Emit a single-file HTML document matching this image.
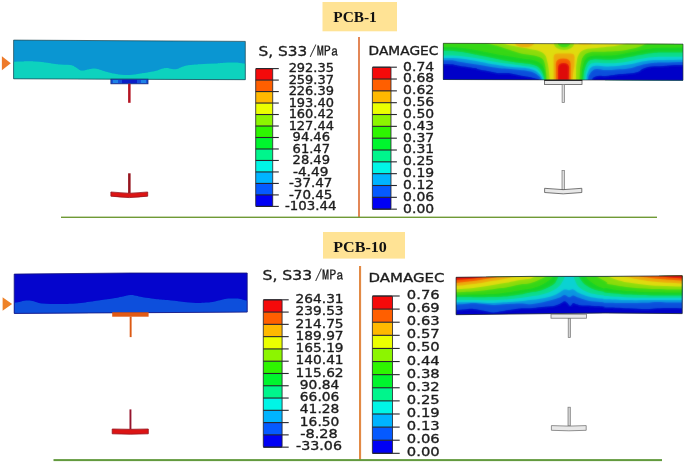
<!DOCTYPE html>
<html lang="en"><head><meta charset="utf-8"><title>PCB-1 / PCB-10 contour plots</title>
<style>
html,body{margin:0;padding:0;background:#fff}
svg{display:block}
text{font-family:"DejaVu Sans","Liberation Sans",sans-serif;fill:#1c1c1c;stroke:#1c1c1c;stroke-width:0.34px}
.t{font-family:"Liberation Serif","DejaVu Serif",serif;font-weight:bold;fill:#111;stroke:none}
.m{font-family:"IPAGothic","Liberation Mono",monospace;stroke-width:0.2px}
</style></head><body>
<svg width="685" height="463" viewBox="0 0 685 463">
<defs>
<filter id="bl" x="-5%" y="-20%" width="110%" height="140%"><feGaussianBlur stdDeviation="1.0"/></filter>
<filter id="b2" x="-5%" y="-20%" width="110%" height="140%"><feGaussianBlur stdDeviation="0.35"/></filter>
</defs>
<rect width="685" height="463" fill="#fff"/>

<rect x="322.5" y="2" width="74.5" height="29.3" fill="#ffe395"/>
<text class="t" x="333.3" y="22" font-size="15.2" textLength="43.5" lengthAdjust="spacingAndGlyphs">PCB-1</text>
<rect x="323" y="232" width="82" height="26.6" fill="#ffe395"/>
<text class="t" x="333.3" y="252.3" font-size="15.6" textLength="53.5" lengthAdjust="spacingAndGlyphs">PCB-10</text>
<rect x="358.1" y="37" width="1.8" height="180.5" fill="#e07a45"/>
<rect x="359" y="266" width="2.1" height="194" fill="#e28a45"/>
<rect x="61" y="216.6" width="596" height="1.4" fill="#6f9a35"/>
<rect x="53.5" y="459.1" width="608.5" height="2" fill="#629a3e"/>
<path d="M1.9,56.2 L10.8,63.2 L1.9,70.2Z" fill="#ee7a2a"/>
<path d="M2.6,297.2 L12.1,303.9 L2.6,310.7Z" fill="#ee8228"/>
<clipPath id="c1"><path d="M13.6,40.1 L245.3,41.4 L245.3,79.7 L13.6,78.8Z"/></clipPath>
<g clip-path="url(#c1)"><rect x="10" y="38" width="240" height="45" fill="#0a96d2"/>
<g filter="url(#b2)"><path d="M12.0,62.0 C13.6,61.9 16.7,61.7 20.0,61.6 C23.3,61.5 23.8,61.2 28.5,61.3 C33.2,61.4 37.9,61.7 43.6,62.3 C49.3,62.9 51.7,63.6 57.0,64.2 C62.3,64.8 66.4,64.4 70.2,65.1 C74.0,65.8 74.1,66.5 76.0,67.5 C77.9,68.5 78.2,69.3 79.7,69.9 C81.2,70.5 81.6,70.5 83.5,70.4 C85.4,70.3 86.7,69.7 89.0,69.3 C91.3,68.9 92.7,68.4 94.9,68.5 C97.1,68.6 97.7,69.1 100.0,69.8 C102.3,70.5 103.5,71.0 106.3,71.8 C109.1,72.6 111.0,73.0 114.0,73.6 C117.0,74.2 118.3,74.5 121.5,74.8 C124.7,75.1 126.5,75.2 130.0,75.0 C133.5,74.8 135.0,74.3 139.0,73.7 C143.0,73.1 146.2,72.7 150.0,72.0 C153.8,71.3 155.4,70.9 158.0,70.2 C160.6,69.5 161.1,69.0 163.0,68.6 C164.9,68.2 165.6,67.9 167.4,68.0 C169.2,68.1 170.1,68.8 172.0,69.0 C173.9,69.2 174.8,69.4 177.0,68.9 C179.2,68.4 180.4,67.3 183.0,66.5 C185.6,65.7 186.8,65.6 190.2,65.1 C193.6,64.6 195.0,64.5 200.0,64.2 C205.0,63.9 210.0,63.9 215.0,63.6 C220.0,63.3 221.2,63.0 225.0,62.8 C228.8,62.6 230.9,62.6 233.9,62.6 C236.9,62.6 237.4,62.7 240.0,62.9 C242.6,63.1 245.6,63.6 247.0,63.8 L247.0,84.0 L12.0,84.0Z" fill="#0ad2be"/></g>
</g>
<path d="M13.6,40.1 L245.3,41.4 L245.3,79.7 L13.6,78.8Z" fill="none" stroke="#1e4650" stroke-width="0.8" stroke-opacity="0.9"/>
<rect x="110.9" y="79.2" width="37.1" height="4.6" fill="#1450dc"/>
<rect x="113" y="80" width="5" height="3" fill="#1e82e6"/><rect x="141" y="80" width="5" height="3" fill="#1e82e6"/>
<rect x="122" y="79.8" width="15" height="3.4" fill="#0a1ec8"/>
<rect x="110.9" y="79.2" width="37.1" height="4.6" fill="none" stroke="#142878" stroke-width="0.8"/>
<rect x="128.1" y="83.8" width="2.5" height="19" fill="#b41423"/>
<rect x="128.1" y="173.3" width="2.5" height="20" fill="#96141e"/>
<path d="M110.9,192 Q129.3,194.6 147.7,192 L147.7,196.2 Q129.3,199 110.9,196.2Z" fill="#dc1414" stroke="#96141e" stroke-width="0.8"/>
<clipPath id="c3"><path d="M14.2,274.1 L130,273 L247.2,273 L247.2,312.1 L14.2,313.4Z"/></clipPath>
<g clip-path="url(#c3)"><rect x="10" y="270" width="240" height="46" fill="#0505cd"/>
<g filter="url(#b2)"><path d="M12.0,303.0 C13.2,302.9 15.5,302.8 18.0,302.3 C20.5,301.8 21.8,301.0 24.7,300.7 C27.6,300.4 28.9,300.4 32.3,301.0 C35.7,301.6 36.9,302.9 41.8,303.5 C46.7,304.1 50.2,303.9 57.0,303.9 C63.8,303.9 68.4,304.1 76.0,303.5 C83.6,302.9 87.3,302.1 94.9,301.0 C102.5,299.9 108.3,299.1 113.9,298.2 C119.5,297.3 119.7,297.0 123.0,296.4 C126.3,295.8 127.8,295.1 130.4,295.0 C133.0,294.9 133.5,295.3 136.0,295.8 C138.5,296.3 139.0,296.7 142.8,297.3 C146.6,297.9 150.1,298.3 155.0,298.9 C159.9,299.5 162.0,299.5 167.4,300.1 C172.8,300.7 176.3,301.2 182.0,301.8 C187.7,302.4 191.1,302.8 195.9,303.0 C200.7,303.2 202.2,302.9 206.0,302.6 C209.8,302.3 211.7,302.0 214.9,301.4 C218.1,300.8 219.3,300.4 222.0,299.8 C224.7,299.2 226.0,298.9 228.2,298.6 C230.4,298.3 231.1,298.4 233.0,298.4 C234.9,298.4 235.7,298.3 237.7,298.6 C239.7,298.9 240.7,299.3 243.0,299.8 C245.3,300.3 247.8,301.0 249.0,301.3 L249.0,316.0 L12.0,316.0Z" fill="#0a50dc"/></g>
</g>
<path d="M14.2,274.1 L130,273 L247.2,273 L247.2,312.1 L14.2,313.4Z" fill="none" stroke="#14147a" stroke-width="0.8"/>
<rect x="112.2" y="312.3" width="36.4" height="4.4" fill="#e15a14"/>
<rect x="129.7" y="316.5" width="1.9" height="20.6" fill="#dc5a14"/>
<rect x="129.5" y="409.4" width="1.9" height="20" fill="#96142d"/>
<path d="M112.2,429 Q130.2,429.6 148.3,429 L148.3,433.8 Q130.2,434.6 112.2,433.8Z" fill="#dc1414" stroke="#96141e" stroke-width="0.8"/>
<clipPath id="c2"><path d="M443.3,43.3 L683,44.1 L683,80.3 L443.3,79.5Z"/></clipPath>
<g clip-path="url(#c2)"><g id="k2"><rect x="440" y="40" width="246" height="44" fill="#e0dc10"/>
<path d="M500.0,42.0 C501.4,42.5 504.2,43.6 507.0,44.4 C509.8,45.2 511.0,45.4 514.0,46.0 C517.0,46.6 518.6,46.9 522.0,47.6 C525.4,48.3 527.5,48.6 531.0,49.3 C534.5,50.0 536.7,50.1 539.5,51.2 C542.3,52.3 543.4,52.8 545.0,55.0 C546.6,57.2 546.6,59.0 547.4,62.0 C548.2,65.0 548.3,66.0 548.8,70.0 C549.3,74.0 549.6,79.6 549.8,82.0 L441.0,82.0 L441.0,42.0Z" fill="#8cdc0a"/>
<path d="M485.0,42.0 C486.4,42.5 489.3,43.7 492.0,44.6 C494.7,45.5 494.8,45.2 498.4,46.3 C502.0,47.4 505.7,48.6 510.0,50.0 C514.3,51.4 516.6,52.3 520.0,53.2 C523.4,54.1 524.2,54.0 527.0,54.5 C529.8,55.0 531.3,54.9 534.0,55.6 C536.7,56.3 538.7,56.5 540.7,57.8 C542.7,59.1 543.2,59.3 544.2,61.9 C545.2,64.5 545.4,66.7 545.9,70.7 C546.4,74.7 546.6,79.7 546.8,82.0 L441.0,82.0 L441.0,42.0Z" fill="#37d714"/>
<path d="M441.0,47.0 C444.3,47.1 450.7,46.9 457.5,47.5 C464.3,48.1 468.0,48.8 475.0,50.0 C482.0,51.2 485.6,52.2 492.6,53.5 C499.6,54.8 504.5,55.6 510.0,56.6 C515.5,57.6 515.3,57.6 520.0,58.3 C524.7,59.0 529.3,59.3 533.4,60.3 C537.5,61.3 538.3,61.8 540.5,63.5 C542.7,65.2 543.2,66.7 544.2,69.0 C545.2,71.3 545.2,72.4 545.6,75.0 C546.0,77.6 545.9,80.6 546.0,82.0 L441.0,82.0Z" fill="#14d228"/>
<path d="M441.0,50.8 C444.3,50.9 450.7,50.7 457.5,51.4 C464.3,52.1 468.0,53.1 475.0,54.4 C482.0,55.7 485.6,56.5 492.6,57.9 C499.6,59.3 504.2,60.4 510.0,61.4 C515.8,62.4 516.9,62.4 521.7,63.1 C526.5,63.8 530.1,63.8 533.8,64.9 C537.5,66.0 538.1,66.6 540.0,68.7 C541.9,70.8 542.6,72.9 543.5,75.6 C544.4,78.3 544.5,80.7 544.7,82.0 L441.0,82.0Z" fill="#0adc8c"/>
<path d="M441.0,55.5 C444.3,55.6 450.7,55.3 457.5,55.8 C464.3,56.3 468.0,57.0 475.0,58.1 C482.0,59.2 485.6,60.2 492.6,61.4 C499.6,62.6 504.2,63.2 510.0,64.1 C515.8,65.0 516.9,65.0 521.7,65.7 C526.5,66.4 530.3,66.5 533.8,67.6 C537.3,68.7 537.5,69.5 539.3,71.4 C541.1,73.3 541.9,74.8 542.8,76.9 C543.7,79.0 543.8,81.0 544.0,82.0 L441.0,82.0Z" fill="#0ad2d2"/>
<path d="M441.0,58.1 C444.3,58.1 450.7,57.8 457.5,58.3 C464.3,58.8 468.0,59.6 475.0,60.8 C482.0,62.0 486.8,63.3 492.6,64.3 C498.4,65.3 500.7,65.5 504.2,66.0 C507.7,66.5 506.8,66.5 510.0,66.8 C513.2,67.1 516.6,67.3 520.0,67.6 C523.4,67.9 524.1,67.7 526.9,68.2 C529.7,68.7 531.4,68.9 533.8,70.0 C536.2,71.1 537.1,72.0 538.7,73.5 C540.3,75.0 540.9,75.9 541.8,77.6 C542.7,79.3 542.9,81.1 543.2,82.0 L441.0,82.0Z" fill="#0a96e1"/>
<path d="M441.0,60.4 C443.1,60.4 448.4,60.1 451.7,60.3 C455.0,60.5 452.8,60.6 457.5,61.4 C462.2,62.2 468.0,63.1 475.0,64.3 C482.0,65.5 486.8,66.3 492.6,67.2 C498.4,68.1 500.7,68.2 504.2,68.6 C507.7,69.0 506.8,68.8 510.0,69.1 C513.2,69.4 516.6,69.7 520.0,70.0 C523.4,70.3 524.1,70.2 526.9,70.8 C529.7,71.4 531.6,71.8 533.8,72.8 C536.0,73.8 536.6,74.5 538.0,75.6 C539.4,76.7 539.9,77.0 540.7,78.3 C541.5,79.6 541.7,81.3 542.0,82.0 L441.0,82.0Z" fill="#0a50dc"/>
<path d="M441.0,63.9 C443.1,64.0 448.4,64.0 451.7,64.3 C455.0,64.6 452.8,64.6 457.5,65.4 C462.2,66.2 470.8,67.3 475.0,68.1 C479.2,68.9 475.0,68.5 478.5,69.3 C482.0,70.1 488.6,71.2 492.6,71.9 C496.6,72.6 495.6,72.8 498.4,73.0 C501.2,73.2 503.8,72.8 506.6,72.9 C509.4,73.0 509.4,73.1 512.4,73.7 C515.4,74.3 518.6,75.2 521.7,75.8 C524.8,76.4 525.5,76.3 528.0,76.8 C530.5,77.3 531.9,77.5 534.0,78.1 C536.1,78.7 537.4,78.8 538.7,79.6 C540.0,80.4 540.1,81.5 540.5,82.0 L441.0,82.0Z" fill="#0000c8"/>
<path d="M575.9,82.0 C575.9,79.6 576.0,73.9 576.1,70.0 C576.2,66.1 576.1,65.8 576.6,62.7 C577.1,59.6 577.1,57.1 578.8,54.4 C580.5,51.7 581.4,50.7 585.0,49.4 C588.6,48.1 591.7,48.5 596.8,47.9 C601.9,47.3 605.6,47.2 610.4,46.6 C615.2,46.0 617.3,45.7 621.0,44.8 C624.7,43.9 627.4,42.6 629.0,42.0 L686.0,42.0 L686.0,82.0Z" fill="#8cdc0a"/>
<path d="M579.5,82.0 C579.6,80.0 579.7,75.3 579.9,72.0 C580.1,68.7 580.0,68.5 580.6,65.4 C581.2,62.3 581.3,59.3 583.1,56.7 C584.9,54.1 585.9,53.4 589.5,52.4 C593.1,51.4 596.2,52.0 601.3,51.8 C606.4,51.6 609.5,51.8 614.9,51.3 C620.3,50.8 623.4,50.4 628.4,49.4 C633.4,48.4 636.1,48.0 640.0,46.5 C643.9,45.0 646.4,42.9 648.0,42.0 L686.0,42.0 L686.0,82.0Z" fill="#37d714"/>
<path d="M581.3,82.0 C581.4,80.2 581.6,76.0 581.9,73.0 C582.2,70.0 582.1,70.0 582.9,67.2 C583.7,64.4 584.0,61.4 585.9,59.1 C587.8,56.8 588.2,56.6 592.2,55.9 C596.2,55.2 600.9,55.8 605.8,55.6 C610.7,55.4 612.2,55.6 616.7,55.0 C621.2,54.4 623.7,53.7 628.4,52.8 C633.1,51.9 635.3,51.3 640.0,50.4 C644.7,49.5 647.0,49.0 651.7,48.5 C656.4,48.0 656.5,48.0 663.4,47.8 C670.3,47.6 681.5,47.5 686.0,47.4 L686.0,82.0Z" fill="#14d228"/>
<path d="M583.1,82.0 C583.2,80.4 583.4,76.6 583.7,74.0 C584.0,71.4 583.9,71.4 584.7,69.0 C585.5,66.6 586.0,64.1 587.7,62.2 C589.4,60.3 589.5,60.0 593.1,59.5 C596.7,59.0 601.1,59.7 605.8,59.7 C610.5,59.7 612.2,59.8 616.7,59.3 C621.2,58.8 623.7,58.2 628.4,57.3 C633.1,56.4 635.3,55.7 640.0,54.9 C644.7,54.1 647.0,53.7 651.7,53.2 C656.4,52.7 656.5,52.7 663.4,52.6 C670.3,52.5 681.5,52.6 686.0,52.6 L686.0,82.0Z" fill="#0adc8c"/>
<path d="M585.0,82.0 C585.1,80.6 585.2,77.2 585.5,75.0 C585.8,72.8 585.8,72.8 586.5,70.9 C587.2,69.0 587.5,67.0 589.0,65.4 C590.5,63.8 590.6,63.3 594.0,62.9 C597.4,62.5 601.3,63.3 605.8,63.3 C610.3,63.3 612.2,63.3 616.7,62.9 C621.2,62.5 623.7,62.2 628.4,61.4 C633.1,60.6 635.3,59.8 640.0,59.0 C644.7,58.2 647.0,57.8 651.7,57.3 C656.4,56.8 656.5,56.8 663.4,56.7 C670.3,56.6 681.5,56.7 686.0,56.7 L686.0,82.0Z" fill="#0ad2d2"/>
<path d="M586.3,82.0 C586.4,80.8 586.6,77.9 586.9,76.0 C587.2,74.1 587.2,74.3 587.9,72.7 C588.6,71.1 589.0,69.5 590.4,68.1 C591.8,66.7 591.8,66.2 594.9,65.9 C598.0,65.6 601.4,66.4 605.8,66.4 C610.2,66.4 612.2,66.4 616.7,66.0 C621.2,65.6 623.7,65.4 628.4,64.6 C633.1,63.8 635.3,62.8 640.0,61.9 C644.7,61.0 647.0,60.6 651.7,60.2 C656.4,59.8 656.5,60.1 663.4,60.0 C670.3,59.9 681.5,59.7 686.0,59.6 L686.0,82.0Z" fill="#0a96e1"/>
<path d="M587.7,82.0 C587.8,81.0 588.0,78.5 588.4,77.0 C588.8,75.5 588.7,75.7 589.5,74.5 C590.3,73.3 590.7,72.0 592.2,70.9 C593.7,69.8 594.1,69.2 596.8,69.0 C599.5,68.8 601.8,70.0 605.8,70.1 C609.8,70.2 612.2,69.8 616.7,69.5 C621.2,69.2 623.7,69.4 628.4,68.6 C633.1,67.8 635.3,66.5 640.0,65.4 C644.7,64.3 647.0,63.7 651.7,63.1 C656.4,62.5 656.5,62.7 663.4,62.5 C670.3,62.3 681.5,62.0 686.0,61.9 L686.0,82.0Z" fill="#0a50dc"/>
<path d="M591.3,82.0 C591.5,81.4 591.9,80.0 592.4,79.0 C592.9,78.0 592.6,77.8 594.0,77.2 C595.4,76.6 597.1,76.0 599.5,75.8 C601.9,75.6 602.4,76.3 605.8,76.0 C609.2,75.7 612.2,75.0 616.7,74.5 C621.2,74.0 624.2,74.1 628.4,73.6 C632.6,73.1 634.7,72.9 637.7,71.9 C640.7,70.9 640.7,69.5 643.5,68.4 C646.3,67.3 647.7,67.1 651.7,66.6 C655.7,66.1 658.7,66.3 663.4,66.0 C668.1,65.7 670.5,65.3 675.0,65.1 C679.5,64.9 683.8,64.9 686.0,64.9 L686.0,82.0Z" fill="#0000c8"/>
<ellipse cx="564" cy="43" rx="10.2" ry="7" fill="#8cdc0a"/>
<ellipse cx="564" cy="43" rx="6.4" ry="4.2" fill="#37d714"/>
<ellipse cx="524.6" cy="43" rx="9.6" ry="4.2" fill="#ecaa0a"/>
<ellipse cx="585" cy="43" rx="7" ry="2.2" fill="#f0c408"/>
<path d="M553.6,82 L553.6,57 Q553.8,53.6 558,53.6 L570.5,53.6 Q574.6,53.6 574.6,57 L574.4,66 Q573,72 572.4,82Z" fill="#ecaa0a"/>
<path d="M555.8,82 L555.8,64 Q556.2,58.6 563.2,58.6 Q570.4,58.6 570.7,64 L570.6,82Z" fill="#f55a05"/>
<path d="M558,82 L558,68 Q558.2,62.9 563.5,62.9 Q568.9,62.9 569.1,68 L568.8,82Z" fill="#de0808"/>
</g><use href="#k2" filter="url(#bl)" opacity="0.55"/></g>
<path d="M443.3,43.3 L683,44.1 L683,80.3 L443.3,79.5Z" fill="none" stroke="#28323c" stroke-width="0.8" stroke-opacity="0.85"/>
<rect x="544.6" y="80.4" width="37.4" height="4" fill="#e8e8e8" stroke="#555" stroke-width="0.8"/><rect x="544.3" y="79.8" width="38" height="1.1" fill="#222"/>
<rect x="562.1" y="84.4" width="2.4" height="18.2" fill="#dcdcdc" stroke="#777" stroke-width="0.7"/>
<rect x="562" y="170.5" width="2.4" height="19.4" fill="#dcdcdc" stroke="#777" stroke-width="0.7"/>
<path d="M544.6,188.3 Q563.2,191 581.8,188.3 L581.8,192.5 Q563.2,195.2 544.6,192.5Z" fill="#e8e8e8" stroke="#555" stroke-width="0.8"/>
<clipPath id="c4"><path d="M456.1,277.3 L530,276.4 L605,276.4 L682.2,275.8 L682.2,313.6 L605,313 L456.1,314.7Z"/></clipPath>
<g clip-path="url(#c4)"><g id="k4"><rect x="452" y="272" width="234" height="46" fill="#0000c8"/>
<path d="M453.5,310.3 C455.3,310.2 460.7,309.8 464.0,309.6 C467.3,309.3 470.0,308.7 473.4,308.9 C476.7,309.1 480.6,310.2 483.9,310.7 C487.2,311.3 490.3,312.3 493.2,312.4 C496.1,312.5 498.9,311.6 501.4,311.2 C503.9,310.8 505.3,310.5 508.4,310.0 C511.5,309.6 516.5,308.7 520.1,308.4 C523.7,308.1 526.4,308.5 530.0,308.3 C533.6,308.1 537.8,307.5 541.7,307.1 C545.6,306.7 550.2,306.5 553.4,306.0 C556.5,305.4 558.5,304.4 560.4,303.6 C562.2,302.8 563.3,301.4 564.5,301.3 C565.6,301.2 566.4,302.3 567.4,303.0 C568.3,303.8 569.3,306.0 570.3,306.0 C571.3,306.0 572.1,303.3 573.2,303.0 C574.3,302.7 575.2,303.8 576.7,304.2 C578.3,304.6 579.6,305.3 582.6,305.6 C585.5,305.9 590.5,305.8 594.2,306.0 C597.9,306.2 603.0,306.5 604.7,306.8 C606.5,307.0 601.1,307.2 605.0,307.5 C608.9,307.7 621.5,308.0 628.4,308.3 C635.2,308.6 641.0,309.1 645.9,309.1 C650.7,309.1 653.7,308.5 657.6,308.3 C661.4,308.1 664.6,307.9 669.2,307.9 C673.9,307.9 682.9,308.2 685.6,308.3 L685.0,274.0 L454.0,274.0Z" fill="#0a50dc"/>
<path d="M453.5,304.8 C455.3,304.7 460.7,304.3 464.0,304.0 C467.3,303.7 470.0,303.0 473.4,303.0 C476.7,303.0 480.6,303.7 483.9,304.0 C487.2,304.3 490.3,304.8 493.2,304.9 C496.1,305.0 498.9,304.6 501.4,304.4 C503.9,304.3 505.3,304.1 508.4,304.0 C511.5,303.8 516.5,303.6 520.1,303.6 C523.7,303.7 526.4,304.4 530.0,304.2 C533.6,304.0 537.8,303.2 541.7,302.5 C545.6,301.7 550.2,300.4 553.4,299.5 C556.5,298.7 558.5,297.9 560.4,297.2 C562.2,296.5 563.0,295.1 564.5,295.1 C565.9,295.1 567.7,297.1 569.1,297.2 C570.6,297.3 571.6,295.3 573.2,295.4 C574.9,295.5 576.5,296.9 579.1,297.8 C581.6,298.7 584.9,300.0 588.4,300.7 C591.9,301.4 597.3,301.6 600.1,301.9 C602.8,302.2 603.9,302.3 604.7,302.5 C605.6,302.6 601.1,302.7 605.0,302.8 C608.9,302.9 621.5,303.0 628.4,303.0 C635.2,303.0 641.0,303.0 645.9,302.8 C650.7,302.6 653.7,301.9 657.6,301.9 C661.4,301.8 664.6,302.4 669.2,302.5 C673.9,302.5 682.9,302.5 685.6,302.5 L685.0,274.0 L454.0,274.0Z" fill="#0a96e1"/>
<path d="M453.5,302.5 C455.3,302.4 460.7,302.2 464.0,302.2 C467.3,302.2 470.0,302.2 473.4,302.3 C476.7,302.4 480.6,302.7 483.9,302.8 C487.2,302.9 490.3,303.1 493.2,303.0 C496.1,303.0 498.9,302.7 501.4,302.6 C503.9,302.4 505.3,302.3 508.4,302.1 C511.5,301.9 516.5,301.6 520.1,301.3 C523.7,301.0 526.4,300.6 530.0,300.1 C533.6,299.7 537.8,299.4 541.7,298.6 C545.6,297.8 550.2,296.6 553.4,295.4 C556.5,294.3 558.5,292.9 560.4,291.9 C562.2,291.0 563.0,289.9 564.5,289.6 C565.9,289.3 567.7,290.2 569.1,290.2 C570.6,290.2 571.6,288.9 573.2,289.4 C574.9,289.9 576.5,291.9 579.1,293.1 C581.6,294.3 584.9,295.7 588.4,296.6 C591.9,297.5 597.3,298.2 600.1,298.6 C602.8,299.0 603.9,298.9 604.7,299.1 C605.6,299.2 601.1,299.1 605.0,299.3 C608.9,299.5 620.6,300.0 628.4,300.1 C636.1,300.3 642.2,300.1 651.7,300.1 C661.3,300.1 679.9,300.1 685.6,300.1 L685.0,274.0 L454.0,274.0Z" fill="#0ad2d2"/>
<path d="M453.5,300.1 C455.3,300.1 460.7,300.0 464.0,300.0 C467.3,300.0 470.0,300.1 473.4,300.1 C476.7,300.2 480.6,300.2 483.9,300.2 C487.2,300.3 490.3,300.3 493.2,300.2 C496.1,300.2 498.9,299.9 501.4,299.8 C503.9,299.6 505.3,299.6 508.4,299.3 C511.5,299.0 516.5,298.6 520.1,298.1 C523.7,297.7 526.4,297.2 530.0,296.6 C533.6,296.0 537.8,295.7 541.7,294.6 C545.6,293.6 550.3,291.7 553.4,290.2 C556.4,288.7 558.1,287.3 559.8,285.5 C561.5,283.8 562.6,281.3 563.5,279.7 C564.4,278.0 564.8,276.4 565.0,275.7 L454.0,274.0Z" fill="#0adc8c"/>
<path d="M573.3,275.7 C573.6,276.4 574.0,277.8 574.8,279.7 C575.7,281.5 576.2,284.5 578.5,286.7 C580.7,288.8 584.8,291.1 588.4,292.5 C592.0,293.9 597.3,294.5 600.1,295.1 C602.8,295.6 603.9,295.6 604.7,295.8 C605.6,296.0 601.1,295.8 605.0,296.0 C608.9,296.3 620.6,297.1 628.4,297.4 C636.1,297.7 642.2,297.7 651.7,297.8 C661.3,297.8 679.9,297.8 685.6,297.8 L685.0,274.0Z" fill="#0adc8c"/>
<path d="M453.5,297.2 C455.3,297.2 460.7,297.1 464.0,297.1 C467.3,297.1 470.0,297.2 473.4,297.2 C476.7,297.2 480.6,297.2 483.9,297.2 C487.2,297.2 490.3,297.2 493.2,297.1 C496.1,297.0 498.9,296.9 501.4,296.7 C503.9,296.6 505.3,296.6 508.4,296.3 C511.5,295.9 516.5,295.3 520.1,294.6 C523.7,294.0 526.4,293.3 530.0,292.5 C533.6,291.8 537.8,291.6 541.7,290.2 C545.6,288.8 550.8,286.1 553.4,284.4 C555.9,282.6 556.0,281.1 556.9,279.7 C557.7,278.2 558.3,276.4 558.6,275.7 L454.0,274.0Z" fill="#14d228"/>
<path d="M578.5,275.7 C578.9,276.4 579.7,278.2 580.8,279.7 C581.9,281.1 582.7,282.7 584.9,284.4 C587.1,286.0 590.9,288.3 594.2,289.6 C597.5,290.9 603.0,291.5 604.7,291.9 C606.5,292.4 601.1,292.1 605.0,292.5 C608.9,293.0 620.6,294.1 628.4,294.6 C636.1,295.1 642.2,295.3 651.7,295.4 C661.3,295.6 679.9,295.4 685.6,295.4 L685.0,274.0Z" fill="#14d228"/>
<path d="M453.5,295.1 C455.3,295.1 460.7,294.9 464.0,294.9 C467.3,294.8 470.0,294.7 473.4,294.6 C476.7,294.5 480.6,294.5 483.9,294.4 C487.2,294.3 490.3,294.1 493.2,293.9 C496.1,293.7 498.9,293.5 501.4,293.2 C503.9,293.0 505.3,292.8 508.4,292.3 C511.5,291.8 516.5,290.8 520.1,290.2 C523.7,289.6 526.4,289.7 530.0,288.8 C533.6,287.9 538.4,286.5 541.7,284.9 C545.0,283.4 547.8,281.2 549.9,279.7 C551.9,278.1 553.3,276.4 553.9,275.7 L454.0,274.0Z" fill="#37d714"/>
<path d="M584.9,275.7 C585.5,276.4 586.6,278.1 588.4,279.7 C590.1,281.2 592.7,283.4 595.4,284.9 C598.1,286.5 603.1,288.3 604.7,288.8 C606.3,289.3 603.0,287.9 605.0,288.1 C607.0,288.3 612.8,289.5 616.7,290.0 C620.6,290.5 622.5,290.7 628.4,291.1 C634.2,291.5 642.2,292.1 651.7,292.3 C661.3,292.5 679.9,292.5 685.6,292.5 L685.0,274.0Z" fill="#37d714"/>
<path d="M453.5,292.5 C455.3,292.4 460.7,292.1 464.0,291.9 C467.3,291.7 470.0,291.6 473.4,291.4 C476.7,291.1 480.6,290.8 483.9,290.4 C487.2,290.1 490.3,289.6 493.2,289.3 C496.1,288.9 498.9,288.5 501.4,288.1 C503.9,287.7 505.3,287.5 508.4,286.9 C511.5,286.3 516.5,285.0 520.1,284.4 C523.7,283.7 526.8,284.0 530.0,283.2 C533.2,282.4 536.4,280.9 539.3,279.7 C542.3,278.4 546.2,276.4 547.5,275.7 L454.0,274.0Z" fill="#8cdc0a"/>
<path d="M595.4,275.7 C596.6,276.4 600.5,278.5 602.4,279.7 C604.4,280.8 606.3,281.9 607.1,282.6 C607.9,283.3 605.7,283.3 607.3,283.8 C608.9,284.3 613.2,284.9 616.7,285.5 C620.2,286.1 622.5,286.7 628.4,287.3 C634.2,287.9 642.2,288.6 651.7,289.0 C661.3,289.4 679.9,289.5 685.6,289.6 L685.0,274.0Z" fill="#8cdc0a"/>
<path d="M453.5,289.6 C455.3,289.5 460.7,289.1 464.0,288.8 C467.3,288.5 470.0,288.2 473.4,287.9 C476.7,287.5 480.6,286.9 483.9,286.5 C487.2,286.0 490.3,285.5 493.2,285.1 C496.1,284.6 498.9,284.1 501.4,283.6 C503.9,283.2 505.3,283.1 508.4,282.5 C511.5,281.9 516.5,280.8 520.1,280.1 C523.7,279.5 528.0,279.1 530.0,278.7 C532.0,278.4 531.2,278.3 532.3,277.8 C533.5,277.3 536.2,276.1 537.0,275.7 L454.0,274.0Z" fill="#e0dc10"/>
<path d="M607.3,275.7 C608.1,276.1 610.5,277.3 612.0,277.9 C613.6,278.6 614.0,278.9 616.7,279.7 C619.4,280.5 622.5,281.6 628.4,282.6 C634.2,283.6 642.2,284.8 651.7,285.5 C661.3,286.2 679.9,286.5 685.6,286.7 L685.0,274.0Z" fill="#e0dc10"/>
<path d="M453.5,286.1 C455.3,285.9 460.7,285.5 464.0,285.2 C467.3,284.8 470.0,284.6 473.4,284.1 C476.7,283.7 480.6,283.0 483.9,282.5 C487.2,281.9 490.3,281.4 493.2,280.8 C496.1,280.3 498.9,279.9 501.4,279.4 C503.9,279.0 506.1,278.7 508.4,278.0 C510.7,277.4 514.2,276.1 515.4,275.7 L454.0,274.0Z" fill="#ecaa0a"/>
<path d="M622.5,275.7 C623.5,276.0 625.4,276.7 628.4,277.3 C631.3,278.0 635.2,278.9 640.0,279.7 C644.9,280.5 650.0,281.3 657.6,282.0 C665.1,282.7 680.9,283.5 685.6,283.8 L685.0,274.0Z" fill="#ecaa0a"/>
<path d="M453.5,283.2 C455.3,283.0 460.7,282.5 464.0,282.1 C467.3,281.8 470.0,281.4 473.4,281.0 C476.7,280.5 480.6,279.9 483.9,279.3 C487.2,278.8 490.3,278.4 493.2,277.8 C496.1,277.2 500.0,276.1 501.4,275.7 L454.0,274.0Z" fill="#f55a05"/>
<path d="M637.7,275.7 C638.7,275.9 640.2,276.6 643.5,277.1 C646.8,277.6 650.5,278.1 657.6,278.7 C664.6,279.4 680.9,280.5 685.6,280.8 L685.0,274.0Z" fill="#f55a05"/>
<path d="M453.5,280.3 C455.3,280.1 460.7,279.6 464.0,279.3 C467.3,279.0 470.6,278.8 473.4,278.5 C476.1,278.2 478.0,278.0 480.4,277.6 C482.7,277.1 486.2,276.0 487.4,275.7 L454.0,274.0Z" fill="#de0808"/>
<path d="M656.4,275.7 C657.4,275.9 659.9,276.3 662.2,276.6 C664.6,277.0 666.5,277.2 670.4,277.6 C674.3,277.9 683.1,278.5 685.6,278.7 L685.0,274.0Z" fill="#de0808"/>
</g><use href="#k4" filter="url(#bl)" opacity="0.55"/></g>
<path d="M456.1,277.3 L530,276.4 L605,276.4 L682.2,275.8 L682.2,313.6 L605,313 L456.1,314.7Z" fill="none" stroke="#1e2832" stroke-width="0.8"/>
<rect x="551" y="314.2" width="35.4" height="4" fill="#e8e8e8" stroke="#777" stroke-width="0.8"/>
<rect x="568.2" y="318.4" width="2.3" height="19.2" fill="#d2d2d2" stroke="#777" stroke-width="0.7"/>
<rect x="568" y="407.2" width="2.3" height="18.6" fill="#d2d2d2" stroke="#777" stroke-width="0.7"/>
<path d="M551.4,425.6 Q569,426.6 586.2,425.6 L586.2,430.3 Q569,431.3 551.4,430.3Z" fill="#e8e8e8" stroke="#777" stroke-width="0.8"/>
<rect x="255.7" y="68.60" width="17.0" height="11.68" fill="#f50a0a"/>
<rect x="255.7" y="80.08" width="17.0" height="11.68" fill="#ff5f00"/>
<rect x="255.7" y="91.57" width="17.0" height="11.68" fill="#ffb900"/>
<rect x="255.7" y="103.05" width="17.0" height="11.68" fill="#ebff00"/>
<rect x="255.7" y="114.53" width="17.0" height="11.68" fill="#8cf500"/>
<rect x="255.7" y="126.02" width="17.0" height="11.68" fill="#2ef500"/>
<rect x="255.7" y="137.50" width="17.0" height="11.68" fill="#00f52e"/>
<rect x="255.7" y="148.98" width="17.0" height="11.68" fill="#00f58c"/>
<rect x="255.7" y="160.46" width="17.0" height="11.68" fill="#00f5e6"/>
<rect x="255.7" y="171.95" width="17.0" height="11.68" fill="#00b4ff"/>
<rect x="255.7" y="183.43" width="17.0" height="11.68" fill="#055aff"/>
<rect x="255.7" y="194.91" width="17.0" height="11.68" fill="#0000f5"/>
<rect x="255.7" y="68.60" width="17.0" height="137.80" fill="none" stroke="#22222a" stroke-width="0.8" rx="1"/>
<rect x="255.7" y="68.05" width="23.1" height="1.1" fill="#26262c"/>
<rect x="255.7" y="79.53" width="23.1" height="1.1" fill="#26262c"/>
<rect x="255.7" y="91.02" width="23.1" height="1.1" fill="#26262c"/>
<rect x="255.7" y="102.50" width="23.1" height="1.1" fill="#26262c"/>
<rect x="255.7" y="113.98" width="23.1" height="1.1" fill="#26262c"/>
<rect x="255.7" y="125.47" width="23.1" height="1.1" fill="#26262c"/>
<rect x="255.7" y="136.95" width="23.1" height="1.1" fill="#26262c"/>
<rect x="255.7" y="148.43" width="23.1" height="1.1" fill="#26262c"/>
<rect x="255.7" y="159.91" width="23.1" height="1.1" fill="#26262c"/>
<rect x="255.7" y="171.40" width="23.1" height="1.1" fill="#26262c"/>
<rect x="255.7" y="182.88" width="23.1" height="1.1" fill="#26262c"/>
<rect x="255.7" y="194.36" width="23.1" height="1.1" fill="#26262c"/>
<rect x="255.7" y="205.85" width="23.1" height="1.1" fill="#26262c"/>
<text x="311.3" y="72.2" font-size="11.5" text-anchor="middle" textLength="45.3" lengthAdjust="spacingAndGlyphs">292.35</text>
<text x="311.3" y="83.6" font-size="11.5" text-anchor="middle" textLength="45.3" lengthAdjust="spacingAndGlyphs">259.37</text>
<text x="311.3" y="95.1" font-size="11.5" text-anchor="middle" textLength="45.3" lengthAdjust="spacingAndGlyphs">226.39</text>
<text x="311.3" y="106.6" font-size="11.5" text-anchor="middle" textLength="45.3" lengthAdjust="spacingAndGlyphs">193.40</text>
<text x="311.3" y="118.1" font-size="11.5" text-anchor="middle" textLength="45.3" lengthAdjust="spacingAndGlyphs">160.42</text>
<text x="311.3" y="129.6" font-size="11.5" text-anchor="middle" textLength="45.3" lengthAdjust="spacingAndGlyphs">127.44</text>
<text x="311.3" y="141.1" font-size="11.5" text-anchor="middle" textLength="37.4" lengthAdjust="spacingAndGlyphs">94.46</text>
<text x="311.3" y="152.5" font-size="11.5" text-anchor="middle" textLength="37.4" lengthAdjust="spacingAndGlyphs">61.47</text>
<text x="311.3" y="164.0" font-size="11.5" text-anchor="middle" textLength="37.4" lengthAdjust="spacingAndGlyphs">28.49</text>
<text x="310.7" y="175.5" font-size="11.5" text-anchor="middle" textLength="35.5" lengthAdjust="spacingAndGlyphs">-4.49</text>
<text x="310.7" y="187.0" font-size="11.5" text-anchor="middle" textLength="43.5" lengthAdjust="spacingAndGlyphs">-37.47</text>
<text x="310.7" y="198.5" font-size="11.5" text-anchor="middle" textLength="43.5" lengthAdjust="spacingAndGlyphs">-70.45</text>
<text x="310.7" y="210.0" font-size="11.5" text-anchor="middle" textLength="51.5" lengthAdjust="spacingAndGlyphs">-103.44</text>
<text x="258.6" y="55.5" font-size="13.2" textLength="48.6" lengthAdjust="spacingAndGlyphs">S, S33</text>
<text class="m" x="309.6" y="55.5" font-size="14.0" textLength="28.4" lengthAdjust="spacingAndGlyphs">/MPa</text>
<rect x="372.4" y="67.20" width="18.6" height="12.03" fill="#f50a0a"/>
<rect x="372.4" y="79.03" width="18.6" height="12.03" fill="#ff5f00"/>
<rect x="372.4" y="90.86" width="18.6" height="12.03" fill="#ffb900"/>
<rect x="372.4" y="102.69" width="18.6" height="12.03" fill="#ebff00"/>
<rect x="372.4" y="114.52" width="18.6" height="12.03" fill="#8cf500"/>
<rect x="372.4" y="126.35" width="18.6" height="12.03" fill="#2ef500"/>
<rect x="372.4" y="138.18" width="18.6" height="12.03" fill="#00f52e"/>
<rect x="372.4" y="150.01" width="18.6" height="12.03" fill="#00f58c"/>
<rect x="372.4" y="161.84" width="18.6" height="12.03" fill="#00f5e6"/>
<rect x="372.4" y="173.67" width="18.6" height="12.03" fill="#00b4ff"/>
<rect x="372.4" y="185.50" width="18.6" height="12.03" fill="#055aff"/>
<rect x="372.4" y="197.33" width="18.6" height="12.03" fill="#0000f5"/>
<rect x="372.4" y="67.20" width="18.6" height="141.96" fill="none" stroke="#22222a" stroke-width="0.8" rx="1"/>
<rect x="372.4" y="66.65" width="24.5" height="1.1" fill="#26262c"/>
<rect x="372.4" y="78.48" width="24.5" height="1.1" fill="#26262c"/>
<rect x="372.4" y="90.31" width="24.5" height="1.1" fill="#26262c"/>
<rect x="372.4" y="102.14" width="24.5" height="1.1" fill="#26262c"/>
<rect x="372.4" y="113.97" width="24.5" height="1.1" fill="#26262c"/>
<rect x="372.4" y="125.80" width="24.5" height="1.1" fill="#26262c"/>
<rect x="372.4" y="137.63" width="24.5" height="1.1" fill="#26262c"/>
<rect x="372.4" y="149.46" width="24.5" height="1.1" fill="#26262c"/>
<rect x="372.4" y="161.29" width="24.5" height="1.1" fill="#26262c"/>
<rect x="372.4" y="173.12" width="24.5" height="1.1" fill="#26262c"/>
<rect x="372.4" y="184.95" width="24.5" height="1.1" fill="#26262c"/>
<rect x="372.4" y="196.78" width="24.5" height="1.1" fill="#26262c"/>
<rect x="372.4" y="208.61" width="24.5" height="1.1" fill="#26262c"/>
<text x="418.6" y="70.6" font-size="12.0" text-anchor="middle" textLength="31.0" lengthAdjust="spacingAndGlyphs">0.74</text>
<text x="418.6" y="82.4" font-size="12.0" text-anchor="middle" textLength="31.0" lengthAdjust="spacingAndGlyphs">0.68</text>
<text x="418.6" y="94.2" font-size="12.0" text-anchor="middle" textLength="31.0" lengthAdjust="spacingAndGlyphs">0.62</text>
<text x="418.6" y="106.0" font-size="12.0" text-anchor="middle" textLength="31.0" lengthAdjust="spacingAndGlyphs">0.56</text>
<text x="418.6" y="117.9" font-size="12.0" text-anchor="middle" textLength="31.0" lengthAdjust="spacingAndGlyphs">0.50</text>
<text x="418.6" y="129.7" font-size="12.0" text-anchor="middle" textLength="31.0" lengthAdjust="spacingAndGlyphs">0.43</text>
<text x="418.6" y="141.5" font-size="12.0" text-anchor="middle" textLength="31.0" lengthAdjust="spacingAndGlyphs">0.37</text>
<text x="418.6" y="153.4" font-size="12.0" text-anchor="middle" textLength="31.0" lengthAdjust="spacingAndGlyphs">0.31</text>
<text x="418.6" y="165.2" font-size="12.0" text-anchor="middle" textLength="31.0" lengthAdjust="spacingAndGlyphs">0.25</text>
<text x="418.6" y="177.0" font-size="12.0" text-anchor="middle" textLength="31.0" lengthAdjust="spacingAndGlyphs">0.19</text>
<text x="418.6" y="188.9" font-size="12.0" text-anchor="middle" textLength="31.0" lengthAdjust="spacingAndGlyphs">0.12</text>
<text x="418.6" y="200.7" font-size="12.0" text-anchor="middle" textLength="31.0" lengthAdjust="spacingAndGlyphs">0.06</text>
<text x="418.6" y="212.5" font-size="12.0" text-anchor="middle" textLength="31.0" lengthAdjust="spacingAndGlyphs">0.00</text>
<text x="368.6" y="55.1" font-size="12.0" textLength="69.8" lengthAdjust="spacingAndGlyphs">DAMAGEC</text>
<rect x="263.3" y="299.80" width="18.8" height="12.48" fill="#f50a0a"/>
<rect x="263.3" y="312.08" width="18.8" height="12.48" fill="#ff5f00"/>
<rect x="263.3" y="324.36" width="18.8" height="12.48" fill="#ffb900"/>
<rect x="263.3" y="336.64" width="18.8" height="12.48" fill="#ebff00"/>
<rect x="263.3" y="348.92" width="18.8" height="12.48" fill="#8cf500"/>
<rect x="263.3" y="361.20" width="18.8" height="12.48" fill="#2ef500"/>
<rect x="263.3" y="373.48" width="18.8" height="12.48" fill="#00f52e"/>
<rect x="263.3" y="385.76" width="18.8" height="12.48" fill="#00f58c"/>
<rect x="263.3" y="398.04" width="18.8" height="12.48" fill="#00f5e6"/>
<rect x="263.3" y="410.32" width="18.8" height="12.48" fill="#00b4ff"/>
<rect x="263.3" y="422.60" width="18.8" height="12.48" fill="#055aff"/>
<rect x="263.3" y="434.88" width="18.8" height="12.48" fill="#0000f5"/>
<rect x="263.3" y="299.80" width="18.8" height="147.36" fill="none" stroke="#22222a" stroke-width="0.8" rx="1"/>
<rect x="263.3" y="299.25" width="25.4" height="1.1" fill="#26262c"/>
<rect x="263.3" y="311.53" width="25.4" height="1.1" fill="#26262c"/>
<rect x="263.3" y="323.81" width="25.4" height="1.1" fill="#26262c"/>
<rect x="263.3" y="336.09" width="25.4" height="1.1" fill="#26262c"/>
<rect x="263.3" y="348.37" width="25.4" height="1.1" fill="#26262c"/>
<rect x="263.3" y="360.65" width="25.4" height="1.1" fill="#26262c"/>
<rect x="263.3" y="372.93" width="25.4" height="1.1" fill="#26262c"/>
<rect x="263.3" y="385.21" width="25.4" height="1.1" fill="#26262c"/>
<rect x="263.3" y="397.49" width="25.4" height="1.1" fill="#26262c"/>
<rect x="263.3" y="409.77" width="25.4" height="1.1" fill="#26262c"/>
<rect x="263.3" y="422.05" width="25.4" height="1.1" fill="#26262c"/>
<rect x="263.3" y="434.33" width="25.4" height="1.1" fill="#26262c"/>
<rect x="263.3" y="446.61" width="25.4" height="1.1" fill="#26262c"/>
<text x="319.6" y="302.9" font-size="12.0" text-anchor="middle" textLength="48.0" lengthAdjust="spacingAndGlyphs">264.31</text>
<text x="319.6" y="315.2" font-size="12.0" text-anchor="middle" textLength="48.0" lengthAdjust="spacingAndGlyphs">239.53</text>
<text x="319.6" y="327.5" font-size="12.0" text-anchor="middle" textLength="48.0" lengthAdjust="spacingAndGlyphs">214.75</text>
<text x="319.6" y="339.8" font-size="12.0" text-anchor="middle" textLength="48.0" lengthAdjust="spacingAndGlyphs">189.97</text>
<text x="319.6" y="352.0" font-size="12.0" text-anchor="middle" textLength="48.0" lengthAdjust="spacingAndGlyphs">165.19</text>
<text x="319.6" y="364.3" font-size="12.0" text-anchor="middle" textLength="48.0" lengthAdjust="spacingAndGlyphs">140.41</text>
<text x="319.6" y="376.6" font-size="12.0" text-anchor="middle" textLength="48.0" lengthAdjust="spacingAndGlyphs">115.62</text>
<text x="319.6" y="388.9" font-size="12.0" text-anchor="middle" textLength="39.5" lengthAdjust="spacingAndGlyphs">90.84</text>
<text x="319.6" y="401.2" font-size="12.0" text-anchor="middle" textLength="39.5" lengthAdjust="spacingAndGlyphs">66.06</text>
<text x="319.6" y="413.4" font-size="12.0" text-anchor="middle" textLength="39.5" lengthAdjust="spacingAndGlyphs">41.28</text>
<text x="319.6" y="425.7" font-size="12.0" text-anchor="middle" textLength="39.5" lengthAdjust="spacingAndGlyphs">16.50</text>
<text x="319.0" y="438.0" font-size="12.0" text-anchor="middle" textLength="37.5" lengthAdjust="spacingAndGlyphs">-8.28</text>
<text x="319.0" y="450.3" font-size="12.0" text-anchor="middle" textLength="45.9" lengthAdjust="spacingAndGlyphs">-33.06</text>
<text x="262.5" y="279.9" font-size="13.2" textLength="49.6" lengthAdjust="spacingAndGlyphs">S, S33</text>
<text class="m" x="315.0" y="279.9" font-size="14.0" textLength="28.4" lengthAdjust="spacingAndGlyphs">/MPa</text>
<rect x="372.4" y="296.00" width="20.1" height="13.31" fill="#f50a0a"/>
<rect x="372.4" y="309.11" width="20.1" height="13.31" fill="#ff5f00"/>
<rect x="372.4" y="322.22" width="20.1" height="13.31" fill="#ffb900"/>
<rect x="372.4" y="335.33" width="20.1" height="13.31" fill="#ebff00"/>
<rect x="372.4" y="348.44" width="20.1" height="13.31" fill="#8cf500"/>
<rect x="372.4" y="361.55" width="20.1" height="13.31" fill="#2ef500"/>
<rect x="372.4" y="374.66" width="20.1" height="13.31" fill="#00f52e"/>
<rect x="372.4" y="387.77" width="20.1" height="13.31" fill="#00f58c"/>
<rect x="372.4" y="400.88" width="20.1" height="13.31" fill="#00f5e6"/>
<rect x="372.4" y="413.99" width="20.1" height="13.31" fill="#00b4ff"/>
<rect x="372.4" y="427.10" width="20.1" height="13.31" fill="#055aff"/>
<rect x="372.4" y="440.21" width="20.1" height="13.31" fill="#0000f5"/>
<rect x="372.4" y="296.00" width="20.1" height="157.32" fill="none" stroke="#22222a" stroke-width="0.8" rx="1"/>
<rect x="372.4" y="295.45" width="27.3" height="1.1" fill="#26262c"/>
<rect x="372.4" y="308.56" width="27.3" height="1.1" fill="#26262c"/>
<rect x="372.4" y="321.67" width="27.3" height="1.1" fill="#26262c"/>
<rect x="372.4" y="334.78" width="27.3" height="1.1" fill="#26262c"/>
<rect x="372.4" y="347.89" width="27.3" height="1.1" fill="#26262c"/>
<rect x="372.4" y="361.00" width="27.3" height="1.1" fill="#26262c"/>
<rect x="372.4" y="374.11" width="27.3" height="1.1" fill="#26262c"/>
<rect x="372.4" y="387.22" width="27.3" height="1.1" fill="#26262c"/>
<rect x="372.4" y="400.33" width="27.3" height="1.1" fill="#26262c"/>
<rect x="372.4" y="413.44" width="27.3" height="1.1" fill="#26262c"/>
<rect x="372.4" y="426.55" width="27.3" height="1.1" fill="#26262c"/>
<rect x="372.4" y="439.66" width="27.3" height="1.1" fill="#26262c"/>
<rect x="372.4" y="452.77" width="27.3" height="1.1" fill="#26262c"/>
<text x="423.3" y="299.0" font-size="13.0" text-anchor="middle" textLength="32.9" lengthAdjust="spacingAndGlyphs">0.76</text>
<text x="423.3" y="312.1" font-size="13.0" text-anchor="middle" textLength="32.9" lengthAdjust="spacingAndGlyphs">0.69</text>
<text x="423.3" y="325.2" font-size="13.0" text-anchor="middle" textLength="32.9" lengthAdjust="spacingAndGlyphs">0.63</text>
<text x="423.3" y="338.3" font-size="13.0" text-anchor="middle" textLength="32.9" lengthAdjust="spacingAndGlyphs">0.57</text>
<text x="423.3" y="351.4" font-size="13.0" text-anchor="middle" textLength="32.9" lengthAdjust="spacingAndGlyphs">0.50</text>
<text x="423.3" y="364.5" font-size="13.0" text-anchor="middle" textLength="32.9" lengthAdjust="spacingAndGlyphs">0.44</text>
<text x="423.3" y="377.6" font-size="13.0" text-anchor="middle" textLength="32.9" lengthAdjust="spacingAndGlyphs">0.38</text>
<text x="423.3" y="390.8" font-size="13.0" text-anchor="middle" textLength="32.9" lengthAdjust="spacingAndGlyphs">0.32</text>
<text x="423.3" y="403.9" font-size="13.0" text-anchor="middle" textLength="32.9" lengthAdjust="spacingAndGlyphs">0.25</text>
<text x="423.3" y="417.0" font-size="13.0" text-anchor="middle" textLength="32.9" lengthAdjust="spacingAndGlyphs">0.19</text>
<text x="423.3" y="430.1" font-size="13.0" text-anchor="middle" textLength="32.9" lengthAdjust="spacingAndGlyphs">0.13</text>
<text x="423.3" y="443.2" font-size="13.0" text-anchor="middle" textLength="32.9" lengthAdjust="spacingAndGlyphs">0.06</text>
<text x="423.3" y="456.3" font-size="13.0" text-anchor="middle" textLength="32.9" lengthAdjust="spacingAndGlyphs">0.00</text>
<text x="368.6" y="282.4" font-size="13.0" textLength="75.9" lengthAdjust="spacingAndGlyphs">DAMAGEC</text>
</svg></body></html>
